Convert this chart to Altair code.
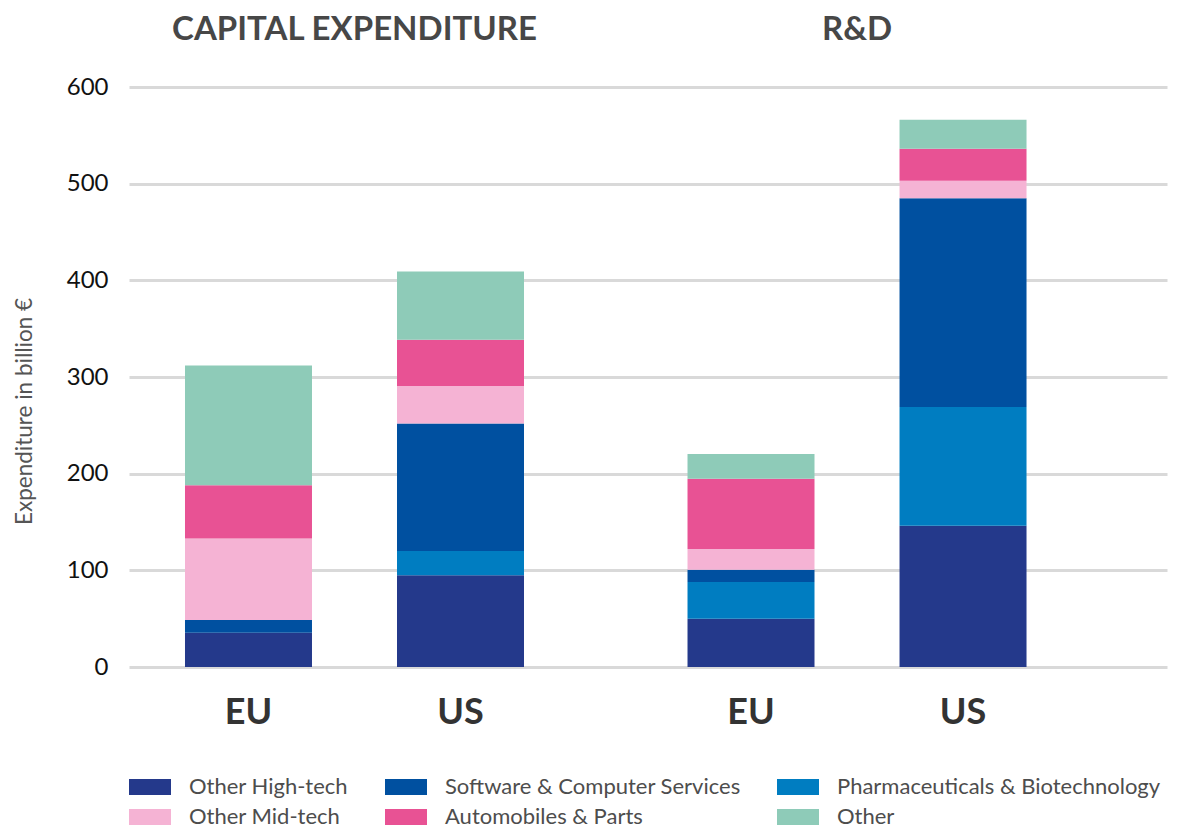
import altair as alt
import pandas as pd

panels = ["CAPITAL EXPENDITURE", "R&D"]
regions = ["EU", "US"]
categories = ["Other High-tech", "Software & Computer Services", "Pharmaceuticals & Biotechnology",
              "Other Mid-tech", "Automobiles & Parts", "Other"]
stack_order = ["Other High-tech", "Pharmaceuticals & Biotechnology", "Software & Computer Services",
               "Other Mid-tech", "Automobiles & Parts", "Other"]
colors = ["#24398b", "#0050a0", "#007dc1", "#f5b3d4", "#e85294", "#8ecbb8"]

# values listed in the order of `categories`
capex_eu = [35.5, 13.1, 0, 84.4, 55, 124]
capex_us = [95, 132, 25, 38.6, 48, 70.5]
rd_eu = [50, 12.7, 38, 21.4, 72.7, 25.6]
rd_us = [146, 216, 123, 18, 33, 30]
y_ticks = [0, 100, 200, 300, 400, 500, 600]

series = {
    ("CAPITAL EXPENDITURE", "EU"): capex_eu,
    ("CAPITAL EXPENDITURE", "US"): capex_us,
    ("R&D", "EU"): rd_eu,
    ("R&D", "US"): rd_us,
}
rows = []
for (p, r), vals in series.items():
    for c, v in zip(categories, vals):
        rows.append({"panel": p, "region": r, "category": c, "value": v,
                     "rank": stack_order.index(c)})
df = pd.DataFrame(rows)
labels_df = pd.DataFrame([{"panel": p, "region": r} for p in panels for r in regions])

FONT = "Lato"

x_enc = alt.X("panel:N", sort=panels,
              scale=alt.Scale(domain=panels, paddingInner=0.1562, paddingOuter=0.1109, align=0.121),
              axis=alt.Axis(orient="top", title=None, labelAngle=0, labelFontSize=33,
                            labelFontWeight="bold", labelColor="#474747", labelFont=FONT,
                            labelPadding=41, labelLimit=800, domain=False, ticks=False,
                            grid=False))
xo_enc = alt.XOffset("region:N", sort=regions,
                     scale=alt.Scale(domain=regions, paddingInner=0.401, paddingOuter=0.2005))

bars = alt.Chart(df).mark_bar().encode(
    x=x_enc,
    xOffset=xo_enc,
    y=alt.Y("value:Q", stack="zero",
            scale=alt.Scale(domain=[0, 600], nice=False),
            axis=alt.Axis(values=y_ticks, grid=True, gridColor="#d9d9d9", gridWidth=3,
                          domain=False, ticks=False, labelFontSize=24, labelColor="#111111",
                          labelFont=FONT, labelPadding=21,
                          title="Expenditure in billion €", titleFontSize=22.5,
                          titleFontWeight="normal", titleColor="#555555", titleFont=FONT,
                          titleX=-105, titleY=324, titleBaseline="middle")),
    color=alt.Color("category:N",
                    scale=alt.Scale(domain=categories, range=colors),
                    legend=alt.Legend(orient="none", legendX=10, legendY=689,
                                      direction="horizontal", columns=3, title=None,
                                      symbolType="M-2.625,-1H2.625V1H-2.625Z", symbolSize=256,
                                      symbolStrokeWidth=0, symbolOpacity=1,
                                      labelFontSize=22, labelFont=FONT, labelColor="#4d4d4d",
                                      labelOffset=28, columnPadding=36, rowPadding=8,
                                      labelLimit=400, padding=0)),
    order=alt.Order("rank:Q"),
)

text = alt.Chart(labels_df).mark_text(
    dy=46, fontSize=36, fontWeight="bold", font=FONT, color="#333333", baseline="middle"
).encode(
    x=alt.X("panel:N", sort=panels),
    xOffset=alt.XOffset("region:N", sort=regions),
    y=alt.datum(0),
    text="region:N",
)

chart = alt.layer(bars, text).properties(
    width=1038, height=580,
    autosize=alt.AutoSizeParams(type="none"),
    padding={"left": 121, "top": 79, "right": 5, "bottom": 162},
).configure(font=FONT).configure_view(stroke=None)

chart.save("out.html", embed_options={"renderer": "svg", "actions": False})
